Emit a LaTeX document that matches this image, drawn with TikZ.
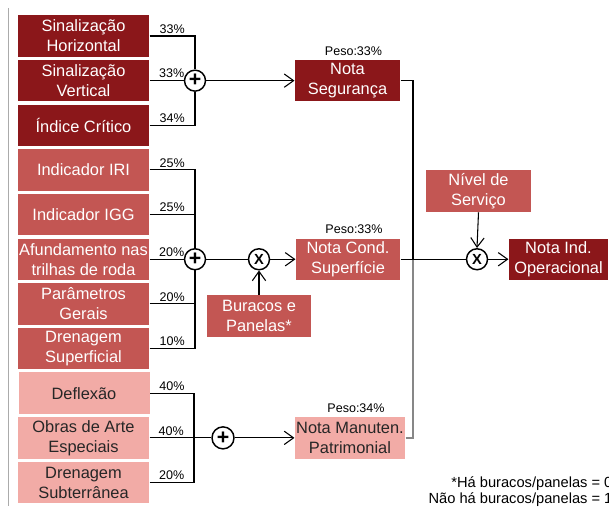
\documentclass[tikz,border=0pt]{standalone}
\usepackage{fontspec}
\setmainfont{Liberation Sans}
\usetikzlibrary{arrows.meta}

\definecolor{segred}{RGB}{139,23,26}
\definecolor{condred}{RGB}{195,86,83}
\definecolor{patrred}{RGB}{242,171,166}
\definecolor{linegray}{RGB}{135,135,135}

\begin{document}
\begin{tikzpicture}[
    x = 0.75pt,
    y = -0.75pt,
    line width = 0.8pt,
    >={Straight Barb[length=7pt,width=10pt]},
    box/.style = {
      rectangle,
      inner sep = 0pt,
      align = center,
      minimum width = 98.25pt,
      minimum height = 31.1pt,
      font = \fontsize{12.3}{15}\selectfont
    },
    seg/.style = {box, fill = segred, text = white},
    cond/.style = {box, fill = condred, text = white},
    patr/.style = {box, fill = patrred, text = black!85},
    peso/.style = {
      inner sep = 0pt,
      xshift = 4.5pt,
      label distance = 2.5pt,
      font = \fontsize{9.4}{10}\selectfont
    },
    op/.style = {
      draw,
      circle,
      fill = white,
      line width = 1.1pt,
      inner sep = 0pt,
      minimum size = 15.75pt
    },
    plus/.style = {op, font = \fontsize{16}{16}\bfseries},
    times/.style = {op, font = \fontsize{11}{11}\bfseries},
    pct/.style = {
      anchor = south,
      inner sep = 1.5pt,
      font = \fontsize{9.4}{10}\selectfont
    }
  ]
  \useasboundingbox (0,0) rectangle (609,506);
  \clip (0,0) rectangle (609,506);

  \draw[linegray!70, line width=1.1pt] (8.5,8) -- (8.5,506);

  % indicadores
  \node[seg] (sinhor) at (83.5,36) {Sinalização\\Horizontal};
  \node[seg] (sinver) at (83.5,80.65) {Sinalização\\Vertical};
  \node[seg] (indcrit) at (83.5,125.3) {Índice Crítico};

  \node[cond] (iri) at (83.5,169.95) {Indicador IRI};
  \node[cond] (igg) at (83.5,214.6) {Indicador IGG};
  \node[cond] (afund) at (83.5,259.25) {Afundamento nas\\trilhas de roda};
  \node[cond] (param) at (83.5,303.9) {Parâmetros\\Gerais};
  \node[cond] (drensup) at (83.5,348.55) {Drenagem\\Superficial};

  \node[patr] (deflexao) at (84,393.2) {Deflexão};
  \node[patr] (obras) at (83.5,437.85) {Obras de Arte\\Especiais};
  \node[patr] (drensub) at (83.5,482.5) {Drenagem\\Subterrânea};

  % operadores
  \node[plus] (plusseg) at (195,80.65) {+};
  \node[plus] (pluscond) at (195,259.25) {+};
  \node[plus, minimum size=16.5pt] (pluspatr) at (223,437.85) {+};
  \node[times] (xcond) at (259,259.25) {X};
  \node[times] (xfinal) at (477,259.25) {X};
  \coordinate (trunkpatr) at (194,437.85);
  \coordinate (junction) at (413,259.25);

  % notas
  \node[seg, minimum width=78.75pt,
        label={[peso]above:{Peso:33\%}}] (seguranca) at (347.5,80.65) {Nota\\Segurança};
  \node[cond, minimum width=78pt,
        label={[peso]above:{Peso:33\%}}] (condsup) at (348,259.25) {Nota Cond.\\Superfície};
  \node[patr, minimum width=82.5pt,
        label={[peso]above:{Peso:34\%}}] (manuten) at (350,437.85) {Nota Manuten.\\Patrimonial};
  \node[cond, minimum width=78pt] (buracos) at (259,316) {Buracos e\\Panelas*};
  \node[cond, minimum width=78.75pt] (nivel) at (478.5,191) {Nível de\\Serviço};
  \node[seg, minimum width=74.25pt] (operacional) at (558.5,259.25) {Nota Ind.\\Operacional};

  % pesos dos indicadores
  \draw (sinhor.east) -| node[pct, pos=0.25] {33\%} (plusseg.north);
  \draw (sinver.east) -- node[pct, pos=0.65] {33\%} (plusseg.west);
  \draw (indcrit.east) -| node[pct, pos=0.25] {34\%} (plusseg.south);

  \draw (iri.east) -| node[pct, pos=0.25] {25\%} (pluscond.north);
  \draw (igg.east) -| node[pct, pos=0.25] {25\%} (pluscond.north);
  \draw (afund.east) -- node[pct, pos=0.65] {20\%} (pluscond.west);
  \draw (param.east) -| node[pct, pos=0.25] {20\%} (pluscond.south);
  \draw (drensup.east) -| node[pct, pos=0.25] {10\%} (pluscond.south);

  \draw (deflexao.east) -| node[pct, pos=0.25] {40\%} (trunkpatr);
  \draw (obras.east) -- node[pct, pos=0.35] {40\%} (pluspatr.west);
  \draw (drensub.east) -| node[pct, pos=0.25] {20\%} (trunkpatr);

  % fluxo
  \draw[->] (plusseg.east) -- (seguranca.west);
  \draw (pluscond.east) -- (xcond.west);
  \draw[->] (buracos.north) -- (xcond.south);
  \draw[->] (xcond.east) -- (condsup.west);
  \draw[->] (pluspatr.east) -- (manuten.west);

  \draw (seguranca.east) -| (junction);
  \draw[linegray, line width=1.1pt] (manuten.east) -| (junction);
  \draw (condsup.east) -- (xfinal.west);
  \draw[->] (nivel.south) -- (xfinal.north);
  \draw[->] (xfinal.east) -- (operacional.west);

  \node[anchor=west, align=right, inner sep=0pt,
        font=\fontsize{11}{12}\selectfont] (legenda) at (428,492)
    {*Há buracos/panelas = 0\\Não há buracos/panelas = 1};
\end{tikzpicture}
\end{document}
